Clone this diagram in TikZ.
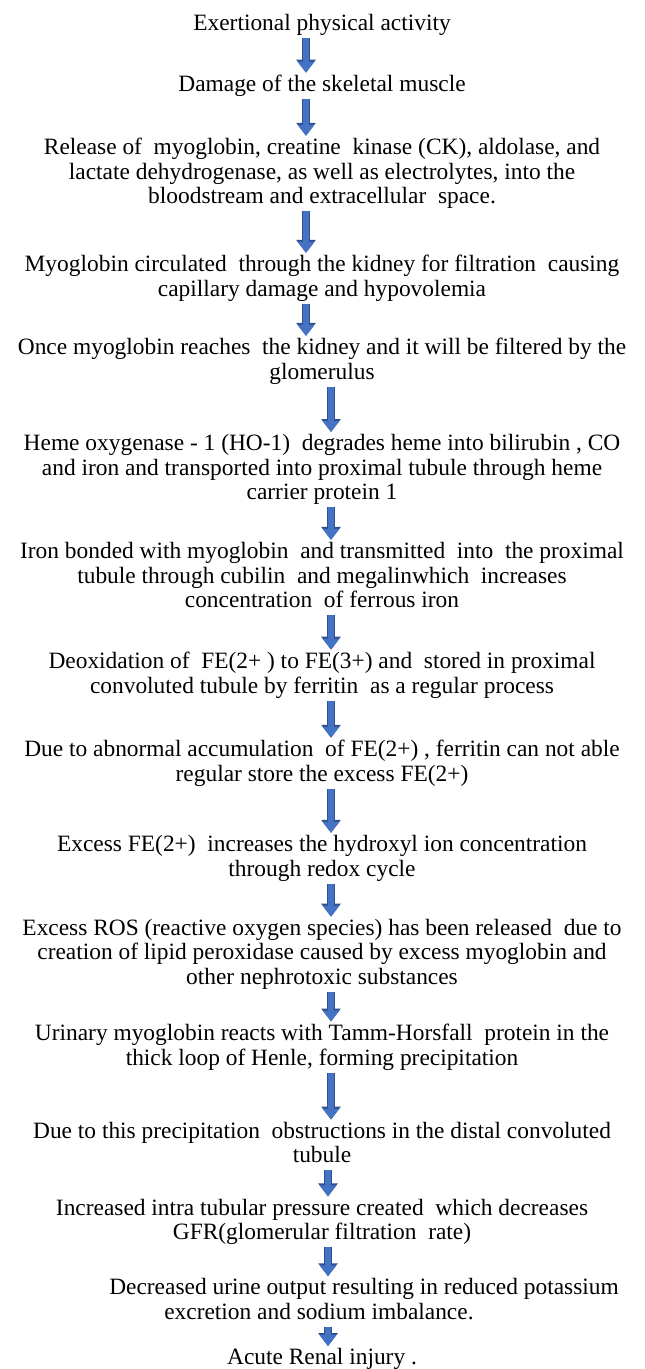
\documentclass[tikz,border=0pt]{standalone}
\usepackage{fontspec}
\setmainfont{Liberation Serif}
\usetikzlibrary{arrows.meta, positioning}
\definecolor{arrowfill}{HTML}{4472C4}
\definecolor{arrowedge}{HTML}{2F4F8F}

\begin{document}
\begin{tikzpicture}[
    flowtext/.style={align=center, inner sep=0pt, text depth=2.6pt, font=\fontsize{11.7}{12.3}\selectfont},
    flowarrow/.style={draw=arrowfill, line width=3.4pt, shorten <=1pt, shorten >=1pt,
        -{Triangle[width=8pt, length=5.5pt]},
        preaction={draw=arrowedge, line width=4.4pt, shorten <=1pt, shorten >=1pt,
        -{Triangle[width=9.4pt, length=6.5pt]}}},
    arrow left/.store in=\arrowleft, arrow left=-8pt,
    arrow right/.store in=\arrowright, arrow right=4.5pt
]
    \useasboundingbox (0,0) rectangle (322pt,-684.5pt);

    % Steps of the cascade - relative positioning
    \node[flowtext] (exertion) at (161pt,-12.5pt) {Exertional physical activity};
    \node[flowtext, below=19.3pt of exertion] (damage) {Damage of the skeletal muscle};
    \node[flowtext, below=20.3pt of damage] (release) {Release of\ \ myoglobin, creatine\ \ kinase (CK), aldolase, and\\
        lactate dehydrogenase, as well as electrolytes, into the\\
        bloodstream and extracellular\ \ space.};
    \node[flowtext, below=22.7pt of release] (circulation) {Myoglobin circulated\ \ through the kidney for filtration\ \ causing\\
        capillary damage and hypovolemia};
    \node[flowtext, below=18pt of circulation] (filtration) {Once myoglobin reaches\ \ the kidney and it will be filtered by the\\
        glomerulus};
    \node[flowtext, below=24.5pt of filtration] (heme) {Heme oxygenase - 1 (HO-1)\ \ degrades heme into bilirubin , CO\\
        and iron and transported into proximal tubule through heme\\
        carrier protein 1};
    \node[flowtext, below=18.2pt of heme] (ironbond) {Iron bonded with myoglobin\ \ and transmitted\ \ into\ \ the proximal\\
        tubule through cubilin\ \ and megalinwhich\ \ increases\\
        concentration\ \ of ferrous iron};
    \node[flowtext, below=19.2pt of ironbond] (oxidation) {Deoxidation of\ \ FE(2+ ) to FE(3+) and\ \ stored in proximal\\
        convoluted tubule by ferritin\ \ as a regular process};
    \node[flowtext, below=20.5pt of oxidation] (overload) {Due to abnormal accumulation\ \ of FE(2+) , ferritin can not able\\
        regular store the excess FE(2+)};
    \node[flowtext, below=24pt of overload] (hydroxyl) {Excess FE(2+)\ \ increases the hydroxyl ion concentration\\
        through redox cycle};
    \node[flowtext, below=18.5pt of hydroxyl] (ros) {Excess ROS (reactive oxygen species) has been released\ \ due to\\
        creation of lipid peroxidase caused by excess myoglobin and\\
        other nephrotoxic substances};
    \node[flowtext, below=16.7pt of ros] (tammhorsfall) {Urinary myoglobin reacts with Tamm-Horsfall\ \ protein in the\\
        thick loop of Henle, forming precipitation};
    \node[flowtext, below=25.5pt of tammhorsfall] (obstruction) {Due to this precipitation\ \ obstructions in the distal convoluted\\
        tubule};
    \node[flowtext, below=15pt of obstruction] (pressure) {Increased intra tubular pressure created\ \ which decreases\\
        GFR(glomerular filtration\ \ rate)};
    \node[flowtext, align=left, below=16.5pt of pressure, xshift=21pt] (output) {Decreased urine output resulting in reduced potassium\\
        \hspace*{27.5pt}excretion and sodium imbalance.};
    \node[flowtext, below=11.5pt of output, xshift=-21pt] (injury) {Acute Renal injury .};

    % Block arrows between steps
    \draw[flowarrow] ([xshift=\arrowleft]exertion.south) -- ([xshift=\arrowleft]damage.north);
    \draw[flowarrow] ([xshift=\arrowleft]damage.south) -- ([xshift=\arrowleft]release.north);
    \draw[flowarrow] ([xshift=\arrowleft]release.south) -- ([xshift=\arrowleft]circulation.north);
    \draw[flowarrow] ([xshift=\arrowleft]circulation.south) -- ([xshift=\arrowleft]filtration.north);
    \draw[flowarrow] ([xshift=\arrowright]filtration.south) -- ([xshift=\arrowright]heme.north);
    \draw[flowarrow] ([xshift=\arrowright]heme.south) -- ([xshift=\arrowright]ironbond.north);
    \draw[flowarrow] ([xshift=\arrowright]ironbond.south) -- ([xshift=\arrowright]oxidation.north);
    \draw[flowarrow] ([xshift=\arrowright]oxidation.south) -- ([xshift=\arrowright]overload.north);
    \draw[flowarrow] ([xshift=\arrowright]overload.south) -- ([xshift=\arrowright]hydroxyl.north);
    \draw[flowarrow] ([xshift=\arrowright]hydroxyl.south) -- ([xshift=\arrowright]ros.north);
    \draw[flowarrow] ([xshift=\arrowright]ros.south) -- ([xshift=\arrowright]tammhorsfall.north);
    \draw[flowarrow] ([xshift=\arrowright]tammhorsfall.south) -- ([xshift=\arrowright]obstruction.north);
    \draw[flowarrow] ([xshift=3pt]obstruction.south) -- ([xshift=3pt]pressure.north);
    \draw[flowarrow] ([xshift=3pt]pressure.south) -- ([xshift=3pt]pressure.south |- output.north);
    \draw[flowarrow] ([xshift=3pt]injury.north |- output.south) -- ([xshift=3pt]injury.north);
\end{tikzpicture}
\end{document}
